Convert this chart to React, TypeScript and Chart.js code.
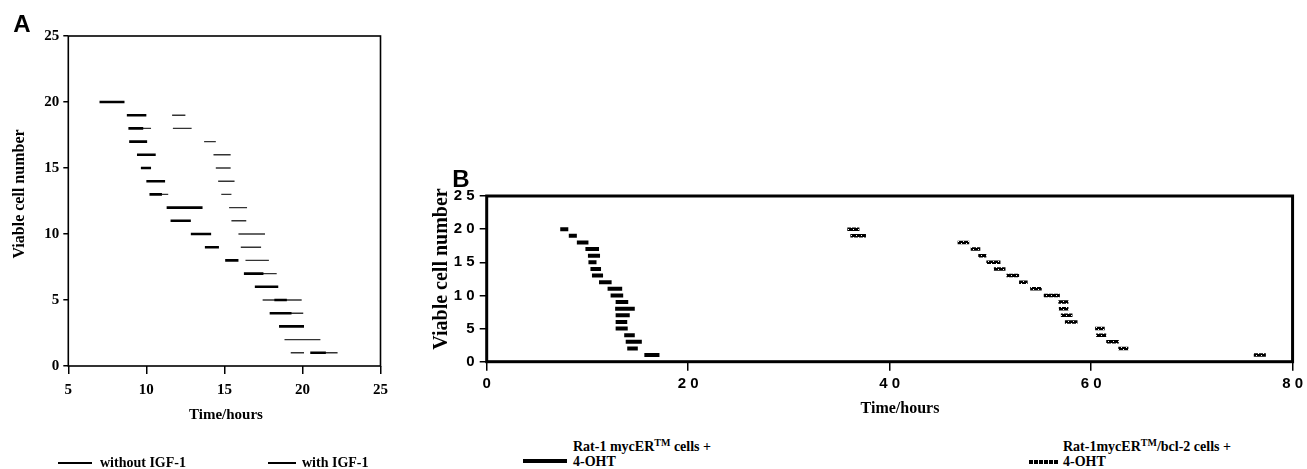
import React, { useEffect, useRef } from 'react';
import { Chart, registerables } from 'chart.js';
Chart.register(...registerables);

// ---------- Panel A data (time in hours, per viable cell level) ----------
const aWithoutCell = [20, 19, 18, 17, 16, 15, 14, 13, 12, 11, 10, 9, 8, 7, 6, 5, 4, 3, 1];
const aWithoutStart = [7.0, 8.75, 8.85, 8.9, 9.4, 9.65, 10.0, 10.2, 11.3, 11.55, 12.85, 13.75, 15.05, 16.25, 16.95, 18.2, 17.9, 18.5, 20.5];
const aWithoutEnd = [8.6, 10.0, 9.8, 10.05, 10.6, 10.3, 11.2, 11.0, 13.6, 12.85, 14.15, 14.65, 15.9, 17.5, 18.45, 19.0, 19.3, 20.1, 21.5];

const aWithCell = [19, 18, 18, 17, 16, 15, 14, 13, 13, 12, 11, 10, 9, 8, 7, 5, 4, 3, 2, 1, 1];
const aWithStart = [11.65, 9.7, 11.7, 13.7, 14.3, 14.45, 14.6, 11.0, 14.8, 15.3, 15.45, 15.9, 16.05, 16.35, 17.4, 17.45, 19.2, 19.0, 18.85, 19.25, 21.45];
const aWithEnd = [12.5, 10.3, 12.9, 14.45, 15.4, 15.4, 15.65, 11.4, 15.45, 16.45, 16.4, 17.6, 17.35, 17.85, 18.35, 19.95, 20.05, 20.0, 21.15, 20.1, 22.25];

const aXTicks = [5, 10, 15, 20, 25];
const aYTicks = [0, 5, 10, 15, 20, 25];

// ---------- Panel B data ----------
const bMycCell = [20, 19, 18, 17, 16, 15, 14, 13, 12, 11, 10, 9, 8, 7, 6, 5, 4, 3, 2, 1];
const bMycStart = [7.3, 8.15, 8.95, 9.8, 10.05, 10.1, 10.3, 10.45, 11.15, 12.0, 12.3, 12.8, 12.75, 12.8, 12.8, 12.8, 13.65, 13.8, 13.95, 15.65];
const bMycEnd = [8.1, 8.95, 10.1, 11.15, 11.25, 10.9, 11.35, 11.55, 12.4, 13.45, 13.55, 14.05, 14.7, 14.2, 13.95, 14.0, 14.7, 15.4, 15.0, 17.15];

const bBclCell = [20, 19, 18, 17, 16, 15, 14, 13, 12, 11, 10, 9, 8, 7, 6, 5, 4, 3, 2, 1];
const bBclStart = [35.8, 36.1, 46.75, 48.05, 48.8, 49.6, 50.35, 51.6, 52.85, 53.95, 55.3, 56.75, 56.8, 57.0, 57.4, 60.4, 60.5, 61.5, 62.7, 76.15];
const bBclEnd = [37.0, 37.65, 47.9, 49.0, 49.6, 51.0, 51.5, 52.85, 53.7, 55.1, 56.9, 57.75, 57.75, 58.15, 58.65, 61.35, 61.5, 62.75, 63.7, 77.35];

const bXTicks = [0, 20, 40, 60, 80];
const bYTicks = [0, 5, 10, 15, 20, 25];
const bXTickLabels = ['0', '2 0', '4 0', '6 0', '8 0'];
const bYTickLabels = ['0', '5', '1 0', '1 5', '2 0', '2 5'];

const SERIF = '"Liberation Serif", "DejaVu Serif", serif';
const SANS = '"Liberation Sans", Arial, sans-serif';

const framePlugin = {
  id: 'frame',
  afterDatasetsDraw(chart: any, _args: any, opts: any) {
    const { ctx, chartArea } = chart;
    ctx.save();
    ctx.strokeStyle = '#000';
    ctx.lineWidth = opts.width || 1.5;
    ctx.strokeRect(chartArea.left, chartArea.top, chartArea.right - chartArea.left, chartArea.bottom - chartArea.top);
    ctx.restore();
  },
};

function segs(cells: number[], starts: number[], ends: number[], style: any) {
  return cells.map((c, i) => ({
    data: [
      { x: starts[i], y: c },
      { x: ends[i], y: c },
    ],
    showLine: true,
    pointRadius: 0,
    borderCapStyle: 'butt',
    fill: false,
    ...style,
  }));
}

function makePattern(): any {
  const c = document.createElement('canvas');
  c.width = 5;
  c.height = 4;
  const g = c.getContext('2d')!;
  g.fillStyle = '#000';
  g.fillRect(0, 0, 5, 4);
  g.fillStyle = '#fff';
  g.fillRect(1, 1, 1, 1);
  g.fillRect(3, 3, 1, 1);
  return g.createPattern(c, 'repeat');
}

export default function App() {
  const refA = useRef<HTMLCanvasElement>(null);
  const refB = useRef<HTMLCanvasElement>(null);

  useEffect(() => {
    const chartA = new Chart(refA.current!, {
      type: 'scatter',
      data: {
        datasets: [
          ...segs(aWithoutCell, aWithoutStart, aWithoutEnd, { borderColor: '#000', borderWidth: 2.6 }),
          ...segs(aWithCell, aWithStart, aWithEnd, { borderColor: '#333', borderWidth: 1.4 }),
        ] as any,
      },
      options: {
        responsive: false,
        animation: false,
        events: [],
        layout: { padding: { left: 0, right: 39.5, top: 36, bottom: 0 } },
        plugins: { legend: { display: false }, tooltip: { enabled: false }, frame: { width: 1.6 } } as any,
        scales: {
          x: {
            type: 'linear',
            min: 5,
            max: 25,
            afterFit: (s: any) => { s.height = 64; },
            afterBuildTicks: (s: any) => { s.ticks = aXTicks.map((v) => ({ value: v })); },
            border: { display: false },
            grid: { drawOnChartArea: false, drawTicks: true, tickLength: 8, color: '#000', lineWidth: 1.5 },
            ticks: { color: '#000', padding: 7, maxRotation: 0, font: { family: SERIF, size: 15, weight: 'bold' } },
          },
          y: {
            type: 'linear',
            min: 0,
            max: 25,
            afterFit: (s: any) => { s.width = 68.3; },
            afterBuildTicks: (s: any) => { s.ticks = aYTicks.map((v) => ({ value: v })); },
            border: { display: false },
            grid: { drawOnChartArea: false, drawTicks: true, tickLength: 5, color: '#000', lineWidth: 1.5 },
            ticks: { color: '#000', padding: 4, font: { family: SERIF, size: 15, weight: 'bold' } },
          },
        },
      } as any,
      plugins: [framePlugin],
    });

    const pattern = makePattern();
    const chartB = new Chart(refB.current!, {
      type: 'scatter',
      data: {
        datasets: [
          ...segs(bMycCell, bMycStart, bMycEnd, { borderColor: '#000', borderWidth: 4 }),
          ...segs(bBclCell, bBclStart, bBclEnd, { borderColor: pattern, borderWidth: 3.5 }),
        ] as any,
      },
      options: {
        responsive: false,
        animation: false,
        events: [],
        layout: { padding: { left: 0, right: 10, top: 26, bottom: 0 } },
        plugins: { legend: { display: false }, tooltip: { enabled: false }, frame: { width: 3 } } as any,
        scales: {
          x: {
            type: 'linear',
            min: 0,
            max: 80,
            afterFit: (s: any) => { s.height = 58.3; },
            afterBuildTicks: (s: any) => { s.ticks = bXTicks.map((v) => ({ value: v })); },
            border: { display: false },
            grid: { drawOnChartArea: false, drawTicks: true, tickLength: 9, color: '#000', lineWidth: 1.5 },
            ticks: {
              color: '#000',
              padding: 4,
              maxRotation: 0,
              font: { family: SANS, size: 15, weight: 'bold' },
              callback: (_v: any, i: number) => bXTickLabels[i],
            },
          },
          y: {
            type: 'linear',
            min: 0,
            max: 25,
            afterFit: (s: any) => { s.width = 66.7; },
            afterBuildTicks: (s: any) => { s.ticks = bYTicks.map((v) => ({ value: v })); },
            border: { display: false },
            grid: { drawOnChartArea: false, drawTicks: true, tickLength: 7, color: '#000', lineWidth: 1.5 },
            ticks: {
              color: '#000',
              padding: 5,
              font: { family: SANS, size: 15, weight: 'bold' },
              callback: (_v: any, i: number) => bYTickLabels[i],
            },
          },
        },
      } as any,
      plugins: [framePlugin],
    });

    return () => {
      chartA.destroy();
      chartB.destroy();
    };
  }, []);

  const abs = (x: number, y: number, extra: any = {}): any => ({
    position: 'absolute',
    left: x,
    top: y,
    transform: 'translate(-50%, -50%)',
    whiteSpace: 'nowrap',
    lineHeight: 1,
    ...extra,
  });
  const leftText = (x: number, y: number, extra: any = {}): any => ({
    position: 'absolute',
    left: x,
    top: y,
    transform: 'translate(0, -50%)',
    whiteSpace: 'nowrap',
    lineHeight: 1,
    ...extra,
  });

  const serifBold = { fontFamily: SERIF, fontWeight: 'bold', color: '#000' };

  return (
    <div style={{ position: 'fixed', left: 0, top: 0, width: 1307, height: 469, background: '#fff', overflow: 'hidden' }}>
      <canvas ref={refA} width={420} height={430} style={{ position: 'absolute', left: 0, top: 0, width: 420, height: 430 }} />
      <canvas ref={refB} width={887} height={250} style={{ position: 'absolute', left: 420, top: 170, width: 887, height: 250 }} />

      <div style={abs(22, 24, { fontFamily: SANS, fontWeight: 'bold', fontSize: 24 })}>A</div>
      <div style={abs(461, 179, { fontFamily: SANS, fontWeight: 'bold', fontSize: 24 })}>B</div>

      <div style={abs(19, 194, { ...serifBold, fontSize: 16, transform: 'translate(-50%, -50%) rotate(-90deg)' })}>Viable cell number</div>
      <div style={abs(226, 414, { ...serifBold, fontSize: 15 })}>Time/hours</div>

      <div style={abs(440, 269, { ...serifBold, fontSize: 20, transform: 'translate(-50%, -50%) rotate(-90deg)' })}>Viable cell number</div>
      <div style={abs(900, 408, { ...serifBold, fontSize: 16 })}>Time/hours</div>

      {/* Legend A */}
      <div style={{ position: 'absolute', left: 58, top: 462, width: 34, height: 2, background: '#000' }} />
      <div style={leftText(100, 463, { ...serifBold, fontSize: 14 })}>without IGF-1</div>
      <div style={{ position: 'absolute', left: 268, top: 462, width: 28, height: 2, background: '#000' }} />
      <div style={leftText(302, 463, { ...serifBold, fontSize: 14 })}>with IGF-1</div>

      {/* Legend B */}
      <div style={{ position: 'absolute', left: 523, top: 459, width: 44, height: 4, background: '#000' }} />
      <div style={leftText(573, 446, { ...serifBold, fontSize: 14 })}>
        Rat-1 mycER<sup style={{ fontSize: 10 }}>TM</sup> cells +
      </div>
      <div style={leftText(573, 462, { ...serifBold, fontSize: 14 })}>4-OHT</div>

      <div
        style={{
          position: 'absolute',
          left: 1029,
          top: 460,
          width: 29,
          height: 4,
          background: 'repeating-linear-gradient(90deg, #000 0 4px, #fff 4px 5px)',
        }}
      />
      <div style={leftText(1063, 446, { ...serifBold, fontSize: 14 })}>
        Rat-1mycER<sup style={{ fontSize: 10 }}>TM</sup>/bcl-2 cells +
      </div>
      <div style={leftText(1063, 462, { ...serifBold, fontSize: 14 })}>4-OHT</div>
    </div>
  );
}
